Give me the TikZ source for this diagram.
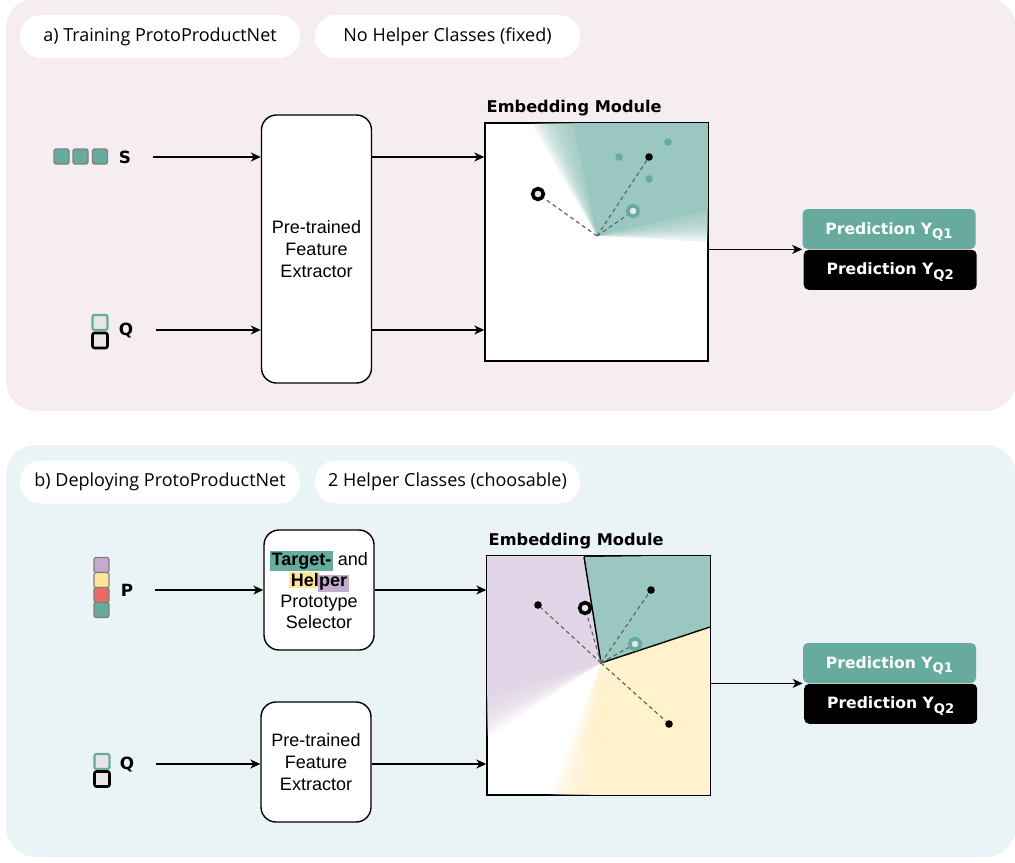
\documentclass[tikz,border=0pt]{standalone}
\usepackage{fontspec}
\setmainfont{Liberation Sans}
\newfontfamily\pillfont{Open Sans}
\newfontfamily\headfont{DejaVu Sans}
\usetikzlibrary{arrows.meta, calc, positioning}

\definecolor{pinkbg}{HTML}{F6EDF0}
\definecolor{bluebg}{HTML}{EAF3F6}
\definecolor{tealC}{HTML}{67AB9F}
\definecolor{tealL}{HTML}{9AC7BF}
\definecolor{purpleC}{HTML}{C3ABD0}
\definecolor{purpleL}{HTML}{E1D5E7}
\definecolor{yellowC}{HTML}{FFE599}
\definecolor{yellowL}{HTML}{FFF2CC}
\definecolor{redC}{HTML}{EA6B66}
\definecolor{ringfill}{HTML}{E6E6E6}
\definecolor{distgray}{HTML}{666666}

\newcommand{\ysub}[1]{Y\raisebox{-2.2pt}{\fontsize{6.6}{7}\selectfont Q#1}}

\tikzset{
  pill/.style={fill=white, rounded corners=10.5pt, minimum height=21.5pt, inner sep=0pt,
    font=\pillfont\fontsize{9}{11}\selectfont},
  block/.style={draw, line width=0.7pt, rounded corners=7.5pt, fill=white, align=center,
    inner sep=0pt, minimum width=55pt, font=\fontsize{9}{11}\selectfont},
  embox/.style={draw, fill=white, line width=0.7pt, minimum width=111.5pt, minimum height=119pt, inner sep=0pt},
  title/.style={font=\headfont\bfseries\fontsize{8.1}{9}\selectfont, inner sep=0pt},
  letter/.style={font=\headfont\bfseries\fontsize{8.4}{9}\selectfont, inner sep=0pt},
  tile/.style={draw=gray, line width=0.6pt, rounded corners=1pt, minimum size=7.5pt, inner sep=0pt},
  query/.style={tile, fill=ringfill, line width=1.1pt},
  pred/.style={rounded corners=2.5pt, minimum width=86.5pt, minimum height=20pt, inner sep=0pt,
    text height=6.2pt, text depth=1.2pt, text=white, font=\headfont\bfseries\fontsize{7.8}{9}\selectfont},
  arr/.style={-{Stealth[length=5pt, width=4.5pt, inset=1.5pt]}, line width=0.7pt},
  dist/.style={distgray, line width=0.6pt, dash pattern=on 2pt off 1.6pt},
  dot/.style={circle, fill, inner sep=0pt, minimum size=3.8pt},
  ring/.style={circle, draw, line width=1.8pt, fill=ringfill, inner sep=0pt, minimum size=5.4pt}
}

\begin{document}
\begin{tikzpicture}[x=0.5pt, y=-0.5pt]
  \useasboundingbox (0,0) rectangle (1015,862);

  \fill[pinkbg, rounded corners=15pt] (6,-2) rectangle (1016,411);
  \fill[bluebg, rounded corners=15pt] (6,445) rectangle (1016,857);

  % a) training
  \node[pill, minimum width=140pt] (tagA) at (160,36.5) {a) Training ProtoProductNet};
  \node[pill, minimum width=132.5pt] (helpA) at (447.5,36.5) {No Helper Classes (fixed)};

  \node[tile, fill=tealC] (sa) at (61.5,156.5) {};
  \node[tile, fill=tealC] (sb) at (80.5,156.5) {};
  \node[tile, fill=tealC] (sc) at (100,156.5) {};
  \node[letter] (s1) at (125,157) {S};
  \node[query, draw=tealC] (qa1) at (100,322.5) {};
  \node[query, draw=black, line width=1.3pt] (qb1) at (100,340.5) {};
  \node[letter] (q1) at (126,330) {Q};

  \node[block, minimum height=134pt] (fe1) at (316.5,249) {Pre-trained\\Feature\\Extractor};

  \node[embox] (em1) at (596.5,242) {};
  \node[title, above right=3pt and 1pt of em1.north west] (et1) {Embedding Module};

  \coordinate (c1) at (597,236);
  \begin{scope}
    \clip (em1.south west) rectangle (em1.north east);
    \fill[tealL] (c1) -- ++(13:200pt) arc[start angle=13, end angle=102, radius=200pt] -- cycle;
    \foreach \i in {1,...,10}
      \fill[tealL, fill opacity=0.17] (c1) -- ++({13-1.6*\i}:200pt)
        arc[start angle={13-1.6*\i}, end angle={102+1.8*\i}, radius=200pt] -- cycle;
  \end{scope}
  \draw[line width=0.7pt] (em1.south west) rectangle (em1.north east);

  \node[dot, tealC] (ta) at (619,157) {};
  \node[dot, tealC] (tb) at (668,142) {};
  \node[dot, tealC] (tc) at (649,179) {};
  \node[dot] (ka) at (649,157) {};
  \node[ring] (rk1) at (538,194) {};
  \node[ring, draw=tealC] (rt1) at (633,211) {};
  \draw[dist] (c1) -- (rk1);
  \draw[dist] (c1) -- (ka);
  \draw[dist] (c1) -- (rt1);

  \node[pred, fill=tealC] (pa1) at (889,229) {Prediction \ysub{1}};
  \node[pred, fill=black, below=0pt of pa1, xshift=0.6pt] (pb1) {Prediction \ysub{2}};

  \draw[arr, shorten <=11pt] (s1.east) -- (s1.east -| fe1.west);
  \draw[arr, shorten <=11pt] (q1.east) -- (q1.east -| fe1.west);
  \draw[arr] (fe1.east |- s1) -- (em1.west |- s1);
  \draw[arr] (fe1.east |- q1) -- (em1.west |- q1);
  \draw[arr] (em1.east |- pa1.south) -- (pa1.south west);

  % b) deploying
  \node[pill, minimum width=140pt] (tagB) at (160,482) {b) Deploying ProtoProductNet};
  \node[pill, minimum width=132.5pt] (helpB) at (447.5,482) {2 Helper Classes (choosable)};

  \node[tile, fill=purpleC] (pa) at (101.5,565) {};
  \node[tile, fill=yellowC] (pb) at (101.5,580) {};
  \node[tile, fill=redC] (pc) at (101.5,595) {};
  \node[tile, fill=tealC] (pd) at (101.5,610) {};
  \node[letter] (p2) at (127,590) {P};
  \node[query, draw=tealC] (qa2) at (102,761.5) {};
  \node[query, draw=black, line width=1.3pt] (qb2) at (102,779) {};
  \node[letter] (q2) at (127,764) {Q};

  \node[block, minimum height=60pt, font=\fontsize{9}{10.5}\selectfont] (ps) at (319,590)
    {\setlength{\fboxsep}{0.8pt}\colorbox{tealC}{\bfseries Target-} and\\
     \setlength{\fboxsep}{0.8pt}\colorbox{yellowC}{\bfseries Hel}\hspace{-1.4pt}\colorbox{purpleC}{\bfseries per}\\
     Prototype\\Selector};
  \node[block, minimum height=60pt] (fe2) at (316,762) {Pre-trained\\Feature\\Extractor};

  \node[embox, minimum height=119.5pt] (em2) at (598.5,675.5) {};
  \node[title, above right=3pt and 1pt of em2.north west] (et2) {Embedding Module};

  \coordinate (c2) at (601,663);
  \coordinate (b1) at (584,557);
  \coordinate (b2) at (710,627);
  \begin{scope}
    \clip (em2.south west) rectangle (em2.north east);
    \fill[purpleL] (c2) -- ++(99.1:200pt) arc[start angle=99.1, end angle=197, radius=200pt] -- cycle;
    \fill[yellowL] (c2) -- ++(265:200pt) arc[start angle=265, end angle=378.3, radius=200pt] -- cycle;
    \foreach \i in {1,...,10} {
      \fill[purpleL, fill opacity=0.17] (c2) -- ++(197:200pt)
        arc[start angle=197, end angle={197+1.6*\i}, radius=200pt] -- cycle;
      \fill[yellowL, fill opacity=0.17] (c2) -- ++({265-1.6*\i}:200pt)
        arc[start angle={265-1.6*\i}, end angle=265, radius=200pt] -- cycle;
    }
    \fill[tealL] (c2) -- (b1) -- (em2.north east) -- (b2) -- cycle;
  \end{scope}
  \draw[line width=0.7pt] (b1) -- (c2) -- (b2);
  \draw[line width=0.7pt] (em2.south west) rectangle (em2.north east);

  \node[dot] (kb) at (538,605) {};
  \node[dot] (kc) at (651,590) {};
  \node[dot] (kd) at (669,724) {};
  \node[ring] (rk2) at (585,608) {};
  \node[ring, draw=tealC] (rt2) at (635,644) {};
  \foreach \n in {kb, kc, kd, rk2, rt2}
    \draw[dist] (c2) -- (\n);

  \node[pred, fill=tealC] (pa2) at (889.5,663) {Prediction \ysub{1}};
  \node[pred, fill=black, below=0pt of pa2, xshift=0.6pt] (pb2) {Prediction \ysub{2}};

  \draw[arr, shorten <=10.5pt] (p2.east) -- (p2.east -| ps.west);
  \draw[arr, shorten <=10.5pt] (q2.east) -- (q2.east -| fe2.west);
  \draw[arr] (ps.east) -- (ps.east -| em2.west);
  \draw[arr] (fe2.east |- q2) -- (em2.west |- q2);
  \draw[arr] (em2.east |- pa2.south) -- (pa2.south west);
\end{tikzpicture}
\end{document}
